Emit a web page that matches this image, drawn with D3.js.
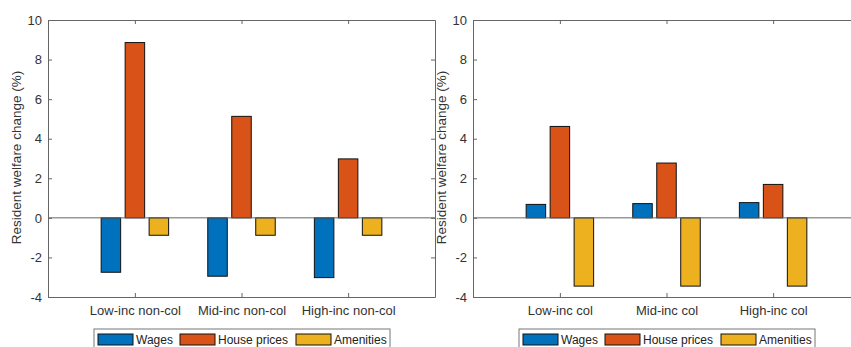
<!DOCTYPE html>
<html>
<head>
<meta charset="utf-8">
<style>
	body { margin: 0; background: #fff; }
	svg { display: block; font-family: "Liberation Sans", Arial, sans-serif; }
	.tick text { fill: #333; }
</style>
</head>
<body>
<script src="https://cdn.jsdelivr.net/npm/d3@7/dist/d3.min.js"></script>
<script>
// data
var catsLeft = ["Low-inc non-col", "Mid-inc non-col", "High-inc non-col"];
var catsRight = ["Low-inc col", "Mid-inc col", "High-inc col"];
var series = ["Wages", "House prices", "Amenities"];
var colors = ["#0072BD", "#D95319", "#EDB120"];

var wagesLeft = [-2.75, -2.95, -3.02];
var houseLeft = [8.86, 5.13, 2.98];
var amenLeft = [-0.88, -0.88, -0.88];

var wagesRight = [0.68, 0.72, 0.77];
var houseRight = [4.62, 2.77, 1.69];
var amenRight = [-3.45, -3.45, -3.45];

var yTicks = [-4, -2, 0, 2, 4, 6, 8, 10];

var W = 851, H = 347;
var svg = d3.select("body").append("svg")
	.attr("width", W)
	.attr("height", H);

var top_ = 20, bottom = 297;
var y = d3.scaleLinear().domain([-4, 10]).range([bottom, top_]);
var axisCol = "#666";

function panel(left, cats, wages, house, amen) {
	var right = left + 387;
	var x = d3.scaleLinear().domain([0.185, 3.815]).range([left, right]);
	var g = svg.append("g");

	// bars
	var offs = [-0.225, 0, 0.225];
	var bw = 0.183;
	var vals = [wages, house, amen];
	vals.forEach(function(arr, s) {
		g.selectAll(null).data(arr).enter().append("rect")
			.attr("x", function(d, i) { return x(i + 1 + offs[s] - bw / 2); })
			.attr("width", x(bw) - x(0))
			.attr("y", function(d) { return y(Math.max(0, d)); })
			.attr("height", function(d) { return Math.abs(y(d) - y(0)); })
			.attr("fill", colors[s])
			.attr("stroke", "#111")
			.attr("stroke-width", 1);
	});

	// zero baseline
	g.append("line")
		.attr("x1", left).attr("x2", right)
		.attr("y1", y(0)).attr("y2", y(0))
		.attr("stroke", axisCol);

	// axes
	var yl = g.append("g").attr("transform", "translate(" + left + ",0)")
		.call(d3.axisLeft(y).tickValues(yTicks).tickSizeInner(-4).tickSizeOuter(0).tickPadding(6)
			.tickFormat(function(d) { return String(d); }));
	var yr = g.append("g").attr("transform", "translate(" + right + ",0)")
		.call(d3.axisRight(y).tickValues(yTicks).tickSizeInner(-4).tickSizeOuter(0).tickFormat(""));
	var xb = g.append("g").attr("transform", "translate(0," + bottom + ")")
		.call(d3.axisBottom(x).tickValues([1, 2, 3]).tickSizeInner(-4).tickSizeOuter(0).tickPadding(9)
			.tickFormat(function(d) { return cats[d - 1]; }));
	var xt = g.append("g").attr("transform", "translate(0," + top_ + ")")
		.call(d3.axisTop(x).tickValues([1, 2, 3]).tickSizeInner(-4).tickSizeOuter(0).tickFormat(""));
	[yl, yr, xb, xt].forEach(function(a) {
		a.selectAll(".domain").attr("stroke", axisCol);
		a.selectAll(".tick line").attr("stroke", axisCol);
	});
	yl.selectAll("text").attr("font-size", 13).attr("font-family", "Liberation Sans, Arial, sans-serif");
	xb.selectAll("text").attr("font-size", 13).attr("font-family", "Liberation Sans, Arial, sans-serif");

	// y label
	g.append("text")
		.attr("transform", "translate(" + (left - 27) + "," + ((top_ + bottom) / 2 - 1) + ") rotate(-90)")
		.attr("text-anchor", "middle")
		.attr("font-size", 13.5)
		.attr("fill", "#333")
		.text("Resident welfare change (%)");

	// legend
	var lx = left + 46;
	var lg = g.append("g").attr("transform", "translate(" + lx + ",329)");
	lg.append("rect").attr("x", 0).attr("y", 0).attr("width", 296).attr("height", 20)
		.attr("fill", "#fff").attr("stroke", "#777");
	var px = [4, 86, 202];
	series.forEach(function(s, i) {
		lg.append("rect").attr("x", px[i]).attr("y", 5).attr("width", 35).attr("height", 11)
			.attr("fill", colors[i]).attr("stroke", "#111");
		lg.append("text").attr("x", px[i] + 38).attr("y", 15)
			.attr("font-size", 12).attr("fill", "#222").text(s);
	});
}

panel(48, catsLeft, wagesLeft, houseLeft, amenLeft);
panel(473, catsRight, wagesRight, houseRight, amenRight);
</script>
</body>
</html>
